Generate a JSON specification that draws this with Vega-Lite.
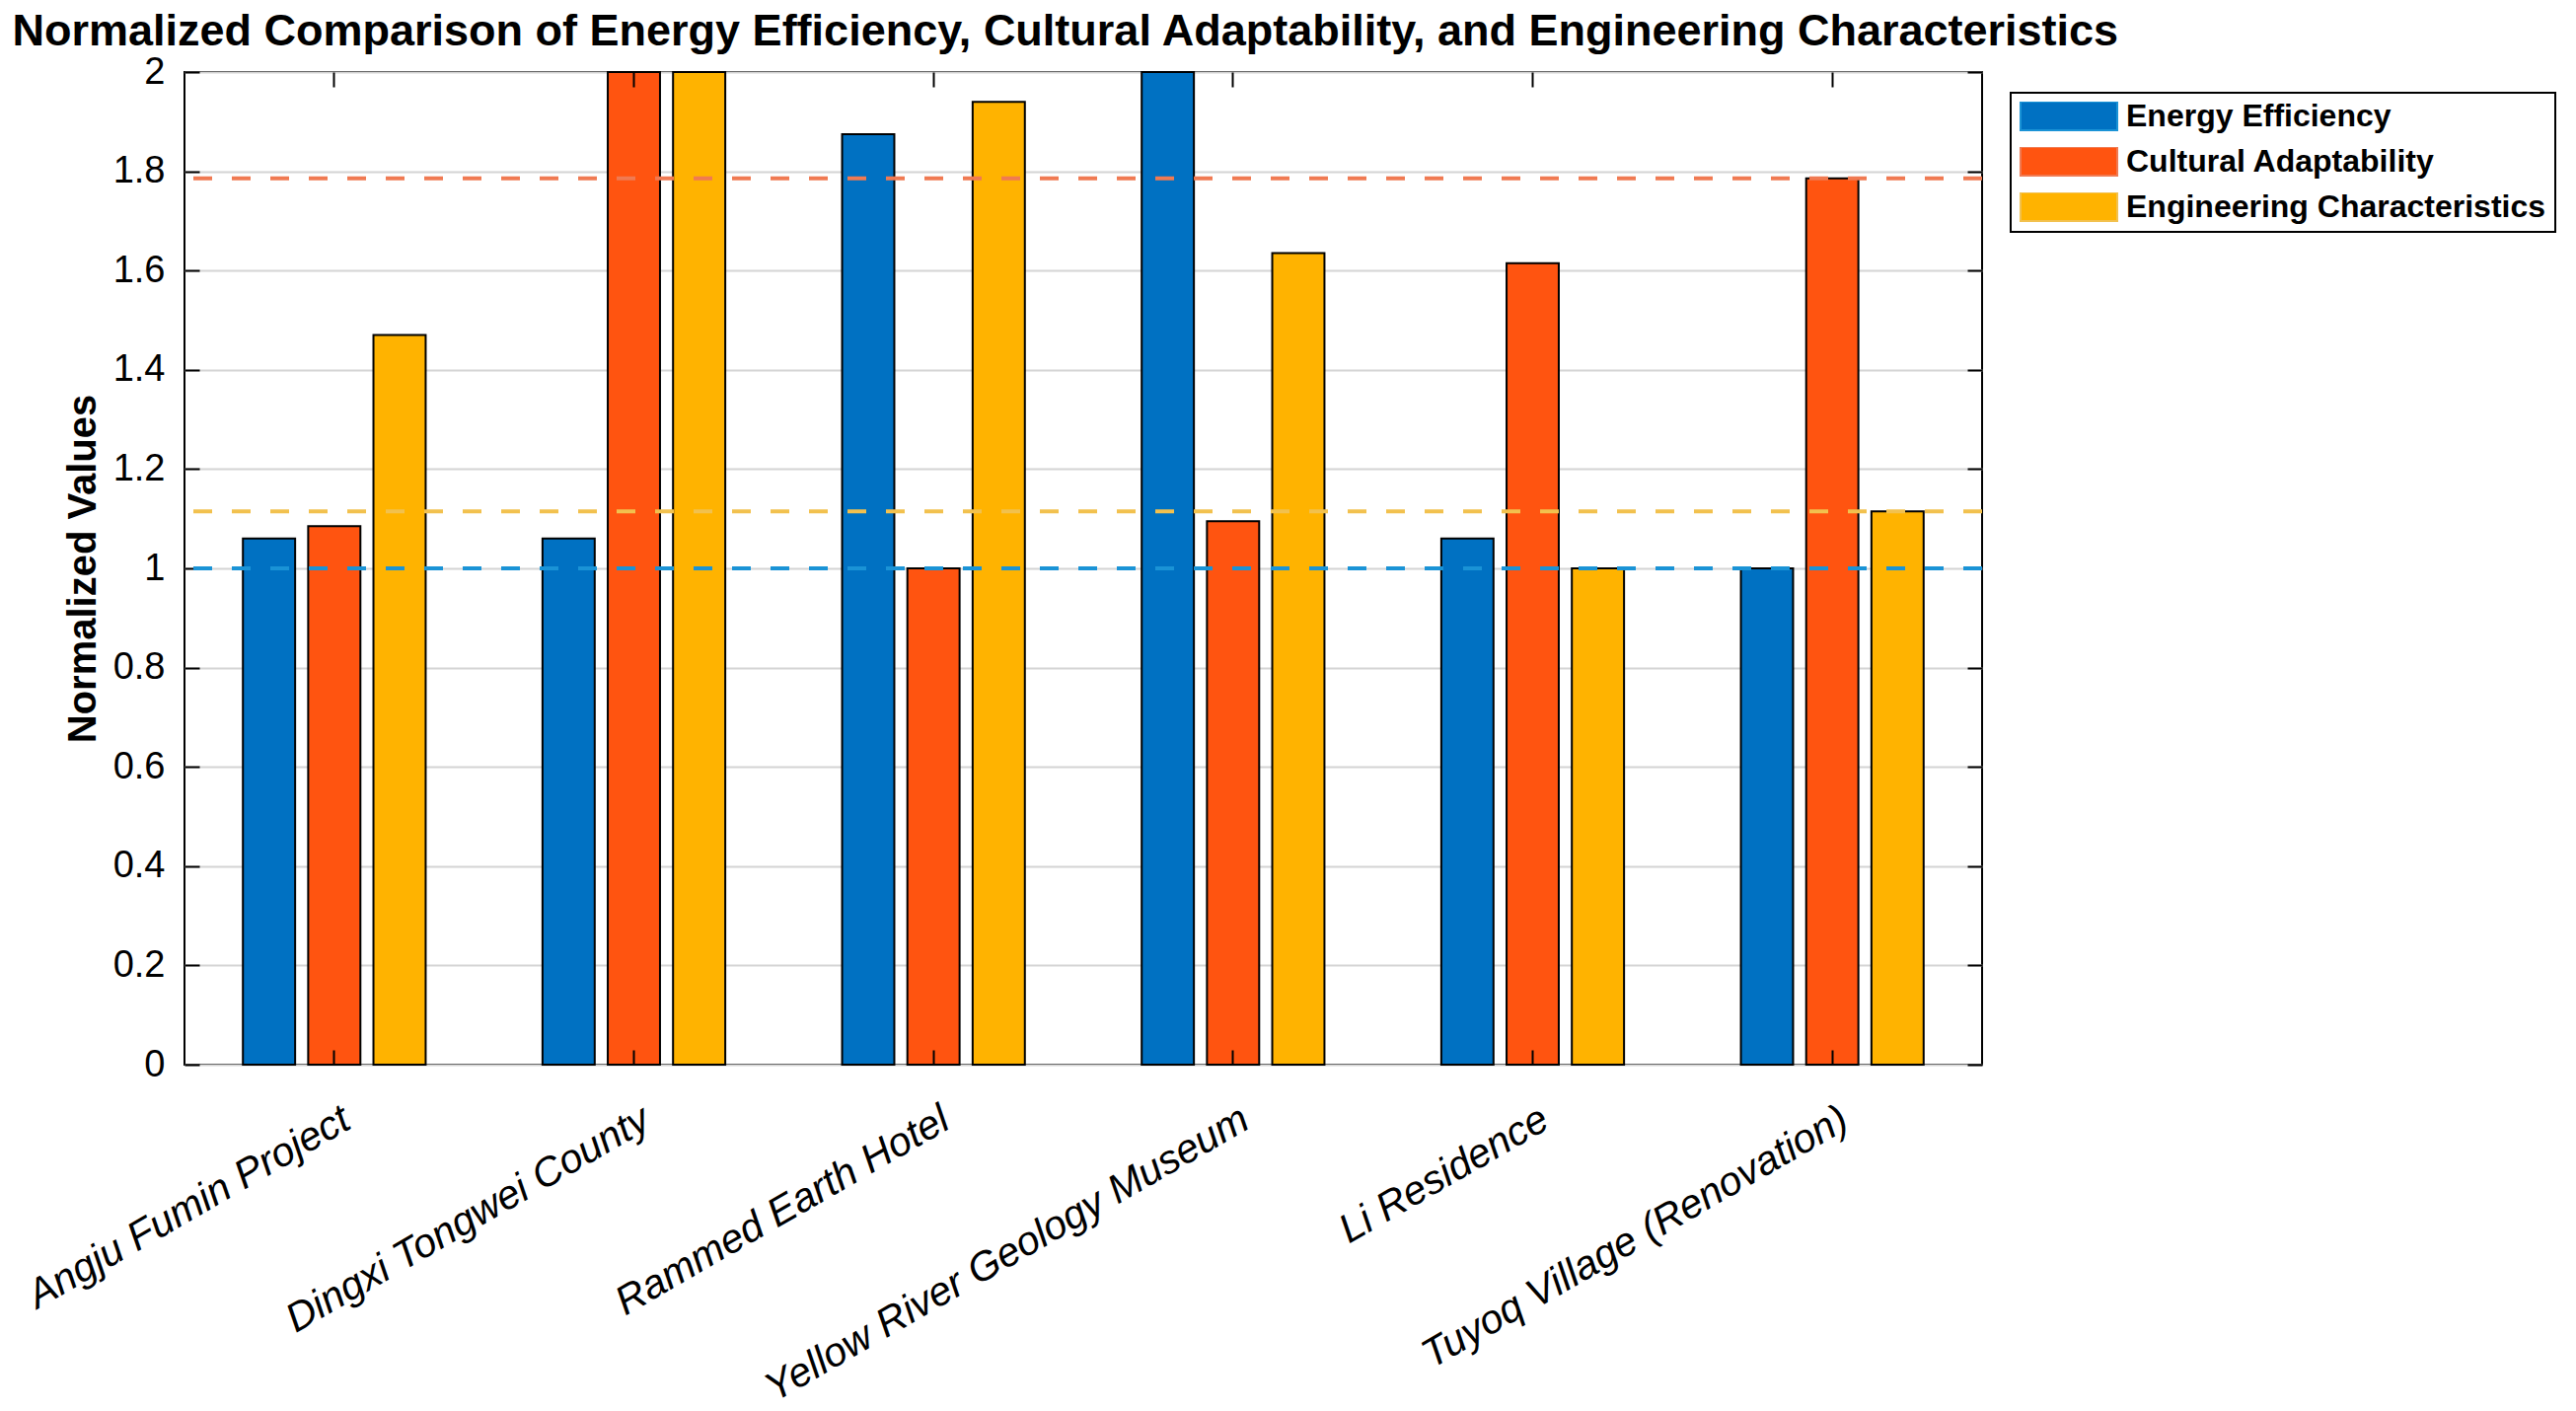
{
  "$schema": "https://vega.github.io/schema/vega-lite/v6.json",
  "autosize": "none",
  "width": 1822,
  "height": 1006,
  "padding": {"left": 187, "top": 73, "right": 602, "bottom": 351},
  "background": "white",
  "datasets": {
    "bars": [
      {"project": "Angju Fumin Project", "metric": "Energy Efficiency", "value": 1.06},
      {"project": "Angju Fumin Project", "metric": "Cultural Adaptability", "value": 1.085},
      {"project": "Angju Fumin Project", "metric": "Engineering Characteristics", "value": 1.47},
      {"project": "Dingxi Tongwei County", "metric": "Energy Efficiency", "value": 1.06},
      {"project": "Dingxi Tongwei County", "metric": "Cultural Adaptability", "value": 2.0},
      {"project": "Dingxi Tongwei County", "metric": "Engineering Characteristics", "value": 2.0},
      {"project": "Rammed Earth Hotel", "metric": "Energy Efficiency", "value": 1.875},
      {"project": "Rammed Earth Hotel", "metric": "Cultural Adaptability", "value": 1.0},
      {"project": "Rammed Earth Hotel", "metric": "Engineering Characteristics", "value": 1.94},
      {"project": "Yellow River Geology Museum", "metric": "Energy Efficiency", "value": 2.0},
      {"project": "Yellow River Geology Museum", "metric": "Cultural Adaptability", "value": 1.095},
      {"project": "Yellow River Geology Museum", "metric": "Engineering Characteristics", "value": 1.635},
      {"project": "Li Residence", "metric": "Energy Efficiency", "value": 1.06},
      {"project": "Li Residence", "metric": "Cultural Adaptability", "value": 1.615},
      {"project": "Li Residence", "metric": "Engineering Characteristics", "value": 1.0},
      {"project": "Tuyoq Village (Renovation)", "metric": "Energy Efficiency", "value": 1.0},
      {"project": "Tuyoq Village (Renovation)", "metric": "Cultural Adaptability", "value": 1.786},
      {"project": "Tuyoq Village (Renovation)", "metric": "Engineering Characteristics", "value": 1.115}
    ],
    "refs": [
      {"metric": "Energy Efficiency", "ref": 1.0},
      {"metric": "Cultural Adaptability", "ref": 1.786},
      {"metric": "Engineering Characteristics", "ref": 1.115}
    ]
  },
  "resolve": {"axis": {"x": "independent", "y": "independent"}},
  "layer": [
    {
      "data": {"name": "bars"},
      "mark": {"type": "bar", "stroke": "black", "strokeWidth": 2},
      "encoding": {
        "x": {
          "field": "project", "type": "nominal", "sort": null,
          "scale": {"paddingInner": 0.39, "paddingOuter": 0.195},
          "axis": {
            "orient": "bottom", "title": null, "domain": false,
            "tickSize": -15, "tickWidth": 2, "tickColor": "black",
            "labelAngle": -30, "labelAlign": "right", "labelBaseline": "top",
            "labelPadding": 50, "labelOffset": 3,
            "labelFont": "Liberation Sans", "labelFontSize": 41, "labelFontStyle": "italic",
            "labelColor": "black", "labelLimit": 1000, "zindex": 1
          }
        },
        "xOffset": {
          "field": "metric", "type": "nominal",
          "sort": ["Energy Efficiency", "Cultural Adaptability", "Engineering Characteristics"],
          "scale": {"paddingInner": 0.2, "paddingOuter": 0}
        },
        "y": {
          "field": "value", "type": "quantitative",
          "scale": {"domain": [0, 2], "nice": false},
          "axis": {
            "orient": "left", "title": "Normalized Values",
            "titleFont": "Liberation Sans", "titleFontSize": 40, "titleFontWeight": "bold",
            "titleColor": "black", "titlePadding": 10,
            "values": [0, 0.2, 0.4, 0.6, 0.8, 1, 1.2, 1.4, 1.6, 1.8, 2],
            "format": "~g", "domain": false,
            "tickSize": -15, "tickWidth": 2, "tickColor": "black",
            "labelPadding": 35, "labelFont": "Liberation Sans", "labelFontSize": 38, "labelColor": "black",
            "grid": true, "gridColor": "#d4d4d4", "gridWidth": 2
          }
        },
        "color": {
          "field": "metric", "type": "nominal",
          "sort": ["Energy Efficiency", "Cultural Adaptability", "Engineering Characteristics"],
          "scale": {
            "domain": ["Energy Efficiency", "Cultural Adaptability", "Engineering Characteristics"],
            "range": ["#0071C2", "#FF5410", "#FFB300"]
          },
          "legend": {
            "title": null, "orient": "none", "legendX": 1851, "legendY": 21,
            "symbolType": "M-1,-0.296H1V0.296H-1Z", "symbolSize": 9604,
            "symbolStrokeColor": "black", "symbolStrokeWidth": 2, "symbolOpacity": 1,
            "clipHeight": 29, "rowPadding": 13, "labelOffset": 8,
            "labelFont": "Liberation Sans", "labelFontSize": 32, "labelFontWeight": "bold",
            "labelColor": "black", "labelLimit": 1000,
            "padding": 9, "strokeColor": "black", "fillColor": "white"
          }
        }
      }
    },
    {
      "data": {"name": "refs"},
      "mark": {"type": "rule", "strokeWidth": 4, "strokeDash": [19, 20]},
      "encoding": {
        "y": {
          "field": "ref", "type": "quantitative",
          "axis": {
            "orient": "right", "title": null, "labels": false, "domain": false, "grid": false,
            "values": [0, 0.2, 0.4, 0.6, 0.8, 1, 1.2, 1.4, 1.6, 1.8, 2],
            "tickSize": -15, "tickWidth": 2, "tickColor": "black"
          }
        },
        "stroke": {
          "field": "metric", "type": "nominal",
          "scale": {
            "domain": ["Energy Efficiency", "Cultural Adaptability", "Engineering Characteristics"],
            "range": ["#1A93D6", "#F07A52", "#F2C14E"]
          },
          "legend": null
        }
      }
    },
    {
      "data": {"name": "bars"},
      "mark": {"type": "bar", "opacity": 0},
      "encoding": {
        "x": {
          "field": "project", "type": "nominal", "sort": null,
          "axis": {
            "orient": "top",
            "title": "Normalized Comparison of Energy Efficiency, Cultural Adaptability, and Engineering Characteristics",
            "titleX": -175, "titleY": -28, "titleAlign": "left", "titleBaseline": "alphabetic",
            "titleFont": "Liberation Sans", "titleFontSize": 45, "titleFontWeight": "bold",
            "titleColor": "black", "titleLimit": 3000,
            "labels": false, "domain": false, "grid": false,
            "tickSize": -15, "tickWidth": 2, "tickColor": "black", "zindex": 1
          }
        },
        "y": {"field": "value", "type": "quantitative", "axis": null}
      }
    }
  ],
  "config": {
    "font": "Liberation Sans",
    "view": {"stroke": "black", "strokeWidth": 2},
    "legend": {"strokeWidth": 2}
  }
}
